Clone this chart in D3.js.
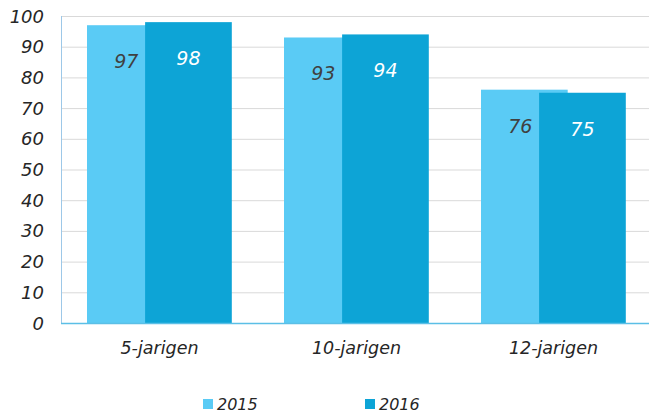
<!DOCTYPE html>
<html>
<head>
<meta charset="utf-8">
<script src="https://cdn.jsdelivr.net/npm/d3@7"></script>
<style>
  body { margin: 0; background: #fff; }
  svg { display: block; font-family: "DejaVu Sans", Verdana, sans-serif; font-style: italic; }
</style>
</head>
<body>
<svg id="chart" width="649" height="414"></svg>
<script>
const categories = ["5-jarigen", "10-jarigen", "12-jarigen"];
const seriesNames = ["2015", "2016"];
const values2015 = [97, 93, 76];
const values2016 = [98, 94, 75];
const yTicks = [0, 10, 20, 30, 40, 50, 60, 70, 80, 90, 100];

const colours = ["#5ACBF5", "#0DA4D6"];
const labelColours = ["#404040", "#ffffff"];

const width = 649;
const height = 414;
const margin = { top: 16, right: -3, bottom: 91, left: 61 };

const svg = d3.select("#chart");

const x = d3.scaleBand()
    .domain(categories)
    .range([margin.left, width - margin.right])
    .paddingInner(0)
    .paddingOuter(0);

const y = d3.scaleLinear()
    .domain([0, 100])
    .range([height - margin.bottom, margin.top]);

// gridlines
svg.append("g")
    .selectAll("line")
    .data(yTicks.filter((d) => d > 0))
    .join("line")
    .attr("x1", margin.left)
    .attr("x2", width)
    .attr("y1", (d) => y(d) + 0.5)
    .attr("y2", (d) => y(d) + 0.5)
    .attr("stroke", "#d9d9d9")
    .attr("stroke-width", 1);

// bars: each bar 0.44 of the band, 2016 overlaps 2015
const barW = x.bandwidth() * 0.44;
const offset = x.bandwidth() * 0.295;
const groupStart = (c) => x(c) + x.bandwidth() * 0.132;

const series = [values2015, values2016];

series.forEach((vals, si) => {
    svg.append("g")
        .selectAll("rect")
        .data(categories)
        .join("rect")
        .attr("x", (c) => groupStart(c) + si * offset)
        .attr("y", (c, i) => y(vals[i]))
        .attr("width", barW)
        .attr("height", (c, i) => y(0) - y(vals[i]))
        .attr("fill", colours[si]);
});

// labels
series.forEach((vals, si) => {
    svg.append("g")
        .selectAll("text")
        .data(categories)
        .join("text")
        .attr("x", (c) => groupStart(c) + si * offset + barW / 2 - (si === 0 ? 4 : 0))
        .attr("y", (c, i) => y(vals[i]) + 36)
        .attr("text-anchor", "middle")
        .attr("dominant-baseline", "central")
        .attr("font-size", 19)
        .attr("fill", labelColours[si])
        .text((c, i) => vals[i]);
});

// axis lines
svg.append("line")
    .attr("x1", margin.left + 0.5)
    .attr("x2", margin.left + 0.5)
    .attr("y1", margin.top)
    .attr("y2", y(0))
    .attr("stroke", "#9dc8e8");

svg.append("line")
    .attr("x1", margin.left)
    .attr("x2", width)
    .attr("y1", y(0) + 0.5)
    .attr("y2", y(0) + 0.5)
    .attr("stroke", "#5bbfe6")
    .attr("stroke-width", 1.5);

// y tick labels
svg.append("g")
    .selectAll("text")
    .data(yTicks)
    .join("text")
    .attr("x", 44)
    .attr("y", (d) => y(d))
    .attr("text-anchor", "end")
    .attr("dominant-baseline", "central")
    .attr("font-size", 18)
    .attr("fill", "#262626")
    .text((d) => d);

// category labels
svg.append("g")
    .selectAll("text")
    .data(categories)
    .join("text")
    .attr("x", (c) => x(c) + x.bandwidth() / 2)
    .attr("y", 348)
    .attr("text-anchor", "middle")
    .attr("dominant-baseline", "central")
    .attr("font-size", 17.5)
    .attr("fill", "#262626")
    .text((c) => c);

// legend
const legendX = [203, 365];
const legend = svg.append("g")
    .selectAll("g")
    .data(seriesNames)
    .join("g")
    .attr("transform", (d, i) => `translate(${legendX[i]},404)`);

legend.append("rect")
    .attr("x", 0)
    .attr("y", -5)
    .attr("width", 10)
    .attr("height", 10)
    .attr("fill", (d, i) => colours[i]);

legend.append("text")
    .attr("x", 14)
    .attr("y", 0)
    .attr("dominant-baseline", "central")
    .attr("font-size", 16)
    .attr("fill", "#262626")
    .text((d) => d);
</script>
</body>
</html>
